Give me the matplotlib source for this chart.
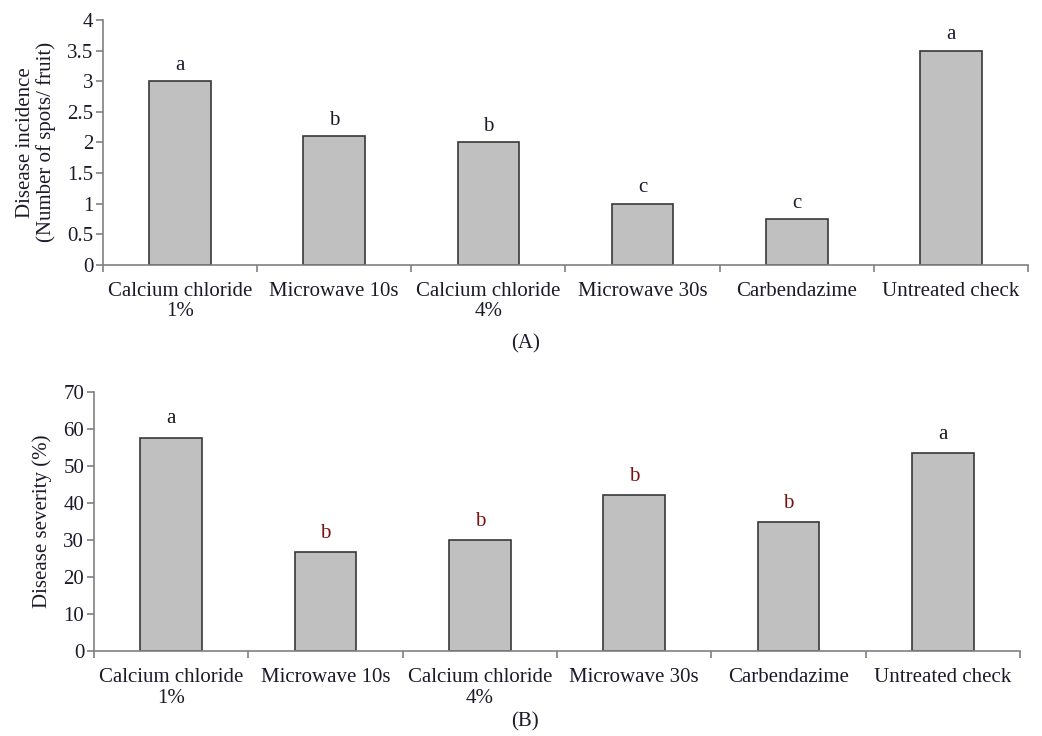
import numpy as np
import matplotlib
matplotlib.use("Agg")
import matplotlib.pyplot as plt

plt.rcParams["font.family"] = ["Liberation Serif", "DejaVu Serif"]

# ---------------------------------------------------------------------------
# Data
# ---------------------------------------------------------------------------
treatments = ["Calcium chloride\n1%", "Microwave 10s", "Calcium chloride\n4%",
              "Microwave 30s", "Carbendazime", "Untreated check"]
incidence = [3.0, 2.1, 2.0, 1.0, 0.75, 3.5]
incidence_letters = ["a", "b", "b", "c", "c", "a"]
severity = [57.7, 26.8, 30.0, 42.2, 34.8, 53.4]
severity_letters = ["a", "b", "b", "b", "b", "a"]

BAR_FACE = "#c0c0c0"
BAR_EDGE = "#383838"
SPINE = "#808080"
TEXT = "#1a1a2a"
FS = 15


def draw_panel(ax, values, letters, ymax, ystep, ylabel, letter_colors, pad):
    x = np.arange(len(values))
    ax.bar(x, values, width=0.4, color=BAR_FACE, edgecolor=BAR_EDGE, linewidth=1.2)
    for xi, v, lab, col in zip(x, values, letters, letter_colors):
        ax.text(xi, v + pad, lab, ha="center", va="bottom", fontsize=FS, color=col)

    ax.set_xlim(-0.5, len(values) - 0.5)
    ax.set_ylim(0, ymax)
    ticks = np.arange(0, ymax + ystep / 2, ystep)
    ax.set_yticks(ticks)
    ax.set_yticklabels([f"{t:g}" for t in ticks])

    # category labels centred, tick marks at the category boundaries
    ax.set_xticks(x)
    ax.set_xticklabels(treatments, fontsize=FS, color=TEXT, linespacing=1.1)
    ax.tick_params(axis="x", which="major", length=0, pad=12.5)
    ax.set_xticks(np.arange(-0.5, len(values)), minor=True)
    ax.tick_params(axis="x", which="minor", length=5, color=SPINE, width=1.2)
    ax.tick_params(axis="y", length=5, color=SPINE, width=1.2, labelsize=FS,
                   labelcolor=TEXT, pad=2)

    for side in ("top", "right"):
        ax.spines[side].set_visible(False)
    for side in ("left", "bottom"):
        ax.spines[side].set_color(SPINE)
        ax.spines[side].set_linewidth(1.2)

    ax.set_ylabel(ylabel, fontsize=FS, color=TEXT, linespacing=1.05)


fig = plt.figure(figsize=(10.42, 7.36), dpi=100)

ax1 = fig.add_axes([0.0988, 0.6404, 0.8878, 0.3324])
draw_panel(ax1, incidence, incidence_letters, 4, 0.5,
           "Disease incidence\n(Number of spots/ fruit)",
           [TEXT] * 6, 0.1)
ax1.yaxis.set_label_coords(-0.051, 0.5)

ax2 = fig.add_axes([0.0902, 0.1155, 0.8888, 0.3519])
sev_colors = ["#1a1a1a" if l == "a" else "#7a1010" for l in severity_letters]
draw_panel(ax2, severity, severity_letters, 70, 10,
           "Disease severity (%)", sev_colors, 2.5)
ax2.yaxis.set_label_coords(-0.045, 0.5)

fig.text(0.504, 1 - 344 / 736, "(A)", ha="center", va="center", fontsize=FS, color=TEXT)
fig.text(0.504, 1 - 722 / 736, "(B)", ha="center", va="center", fontsize=FS, color=TEXT)

fig.savefig("out.png", dpi=100)
